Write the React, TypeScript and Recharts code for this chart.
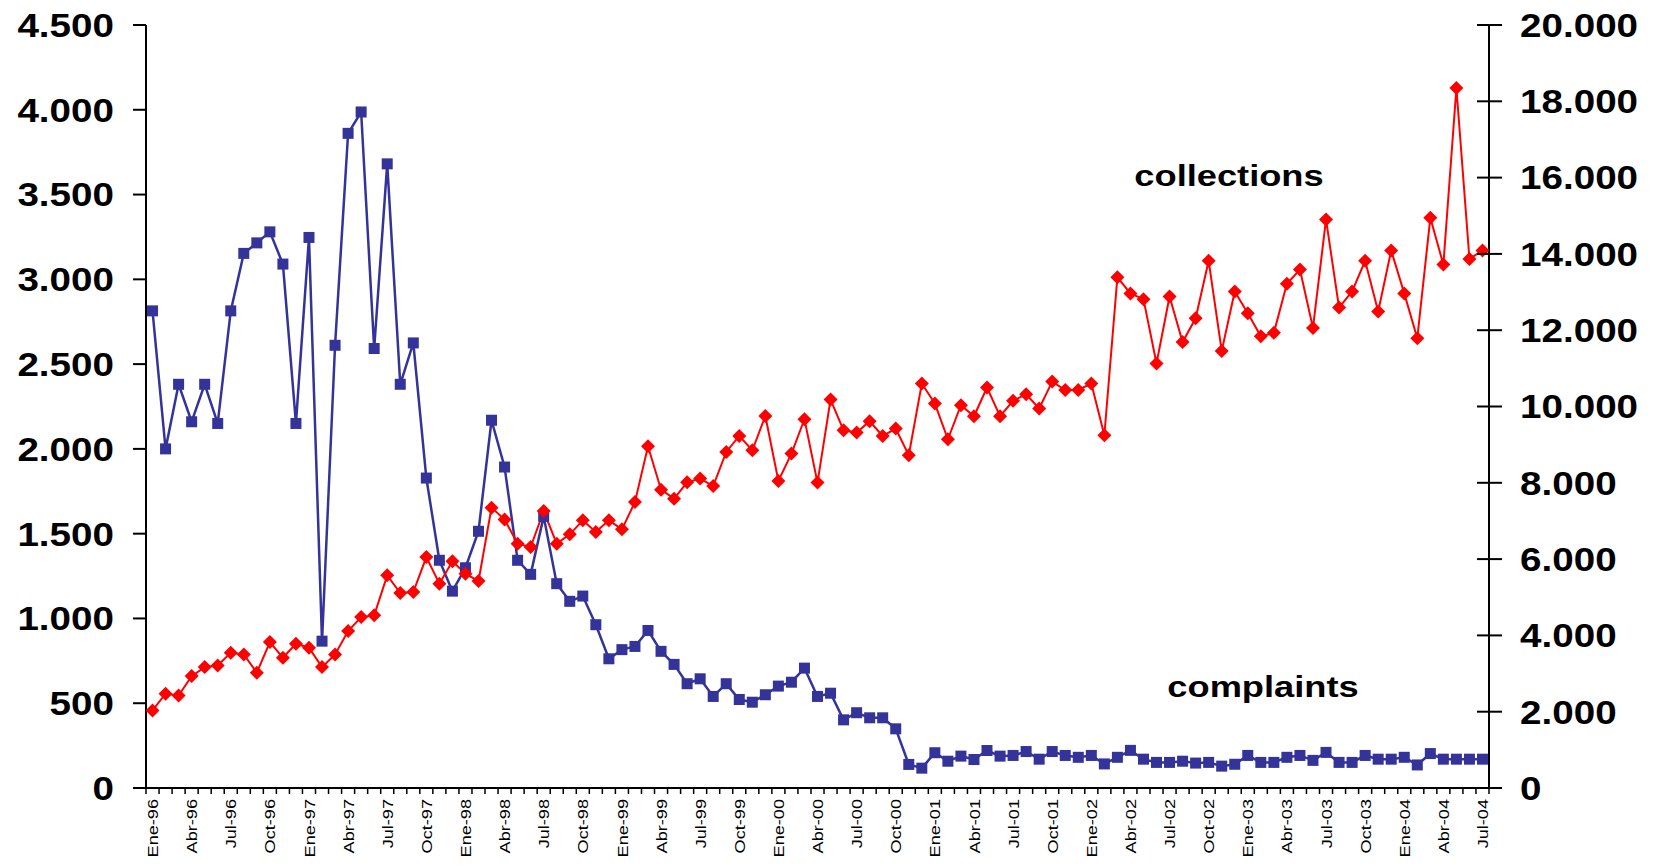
import React from 'react';
import { LineChart, Line, XAxis, YAxis } from 'recharts';

// month labels, Ene-96 .. Jul-04
const monthAbbr = ['Ene', 'Feb', 'Mar', 'Abr', 'May', 'Jun', 'Jul', 'Ago', 'Sep', 'Oct', 'Nov', 'Dic'];
const years = ['96', '97', '98', '99', '00', '01', '02', '03', '04'];
const months: string[] = years.flatMap((y) => monthAbbr.map((m) => `${m}-${y}`)).slice(0, 103);

// left axis
const complaints = [
  2814, 2000, 2381, 2160, 2381, 2150, 2814, 3153, 3215, 3280, 3090, 2150,
  3247, 866, 2611, 3861, 3987, 2592, 3681, 2381, 2625, 1828, 1343, 1161,
  1299, 1514, 2169, 1893, 1343, 1260, 1602, 1205, 1101, 1132, 963, 762,
  816, 835, 929, 806, 729, 615, 644, 540, 615, 522, 506, 550,
  601, 624, 707, 540, 559, 402, 444, 414, 414, 349, 139, 117,
  208, 158, 188, 168, 221, 188, 192, 215, 170, 215, 192, 181,
  192, 142, 181, 222, 170, 151, 151, 158, 147, 151, 129, 140,
  192, 151, 151, 181, 192, 163, 210, 151, 151, 192, 170, 170,
  181, 136, 203, 170, 170, 170, 170,
];

// right axis
const collections = [
  2033, 2471, 2426, 2933, 3169, 3213, 3546, 3502, 3021, 3825, 3415, 3782,
  3677, 3169, 3502, 4113, 4480, 4525, 5574, 5110, 5136, 6054, 5356, 5941,
  5618, 5424, 7349, 7035, 6405, 6316, 7260, 6405, 6649, 7016, 6710, 7016,
  6780, 7496, 8957, 7820, 7585, 8013, 8110, 7916, 8808, 9228, 8852, 9752,
  8048, 8766, 9666, 8005, 10182, 9377, 9316, 9613, 9228, 9421, 8721, 10602,
  10077, 9141, 10033, 9744, 10497, 9744, 10151, 10322, 9950, 10653, 10432, 10432,
  10603, 9246, 13387, 12965, 12814, 11126, 12884, 11688, 12312, 13819, 11457, 13015,
  12442, 11839, 11930, 13216, 13588, 12060, 14904, 12593, 13015, 13819, 12492, 14090,
  12965, 11789, 14945, 13719, 18348, 13869, 14090,
];

const leftTicks = [0, 500, 1000, 1500, 2000, 2500, 3000, 3500, 4000, 4500];
const rightTicks = [0, 2000, 4000, 6000, 8000, 10000, 12000, 14000, 16000, 18000, 20000];

const data = months.map((m, i) => ({ i, month: m, complaints: complaints[i], collections: collections[i] }));

// tick marks sit between months, labels every third month
const xTicks = [
  ...months.map((_, i) => i - 0.5),
  months.length - 0.5,
  ...months.map((_, i) => i).filter((i) => i % 3 === 0),
].sort((a, b) => a - b);

const FONT = '"Liberation Sans", Arial, sans-serif';
const fmt = (n: number) => String(n).replace(/\B(?=(\d{3})+(?!\d))/g, '.');

const XTick = (props: any) => {
  const { x, y, payload } = props;
  const v = payload.value;
  if (!Number.isInteger(v)) {
    return <line x1={x} x2={x} y1={y} y2={y + 6} stroke="#000" strokeWidth={1.5} />;
  }
  return (
    <text
      transform={`translate(${x},${y + 11}) rotate(-90) scale(1.17,1)`}
      textAnchor="end"
      dy="0.36em"
      fontSize={15.5}
      fontFamily={FONT}
      fill="#000"
    >
      {months[v]}
    </text>
  );
};

const LeftTick = (props: any) => {
  const { x, y, payload } = props;
  return (
    <g>
      <line x1={x - 13} x2={x} y1={y} y2={y} stroke="#000" strokeWidth={2} />
      <text
        transform={`translate(${x - 32},${y}) scale(1.17,1)`}
        textAnchor="end"
        dy="0.36em"
        fontSize={33}
        fontWeight="bold"
        fontFamily={FONT}
        fill="#000"
      >
        {fmt(payload.value)}
      </text>
    </g>
  );
};

const RightTick = (props: any) => {
  const { x, y, payload } = props;
  return (
    <g>
      <line x1={x - 12} x2={x + 13} y1={y} y2={y} stroke="#000" strokeWidth={2} />
      <text
        transform={`translate(${x + 31},${y}) scale(1.17,1)`}
        textAnchor="start"
        dy="0.36em"
        fontSize={33}
        fontWeight="bold"
        fontFamily={FONT}
        fill="#000"
      >
        {fmt(payload.value)}
      </text>
    </g>
  );
};

const squareDot = (p: any) => (
  <rect key={`sq-${p.index}`} x={p.cx - 5.5} y={p.cy - 5.5} width={11} height={11} fill="#333399" />
);

const diamondDot = (p: any) => (
  <polygon
    key={`dm-${p.index}`}
    points={`${p.cx},${p.cy - 7} ${p.cx + 7},${p.cy} ${p.cx},${p.cy + 7} ${p.cx - 7},${p.cy}`}
    fill="#FF0000"
  />
);

export default function App() {
  const W = 1639;
  const H = 850;
  return (
    <div style={{ position: 'relative', width: W, height: H }}>
      <LineChart width={W} height={H} data={data} margin={{ top: 17, right: 0, bottom: 0, left: 0 }}>
        <XAxis
          dataKey="i"
          type="number"
          domain={[-0.5, 102.5]}
          ticks={xTicks}
          interval={0}
          tick={<XTick />}
          tickLine={false}
          tickSize={0}
          tickMargin={0}
          axisLine={{ stroke: '#000', strokeWidth: 2 }}
          height={70}
          allowDataOverflow
        />
        <YAxis
          yAxisId="left"
          orientation="left"
          domain={[0, 4500]}
          ticks={leftTicks}
          interval={0}
          width={138}
          tick={<LeftTick />}
          tickLine={false}
          tickSize={0}
          tickMargin={0}
          axisLine={{ stroke: '#000', strokeWidth: 2 }}
        />
        <YAxis
          yAxisId="right"
          orientation="right"
          domain={[0, 20000]}
          ticks={rightTicks}
          interval={0}
          width={158}
          tick={<RightTick />}
          tickLine={false}
          tickSize={0}
          tickMargin={0}
          axisLine={{ stroke: '#000', strokeWidth: 2 }}
        />
        <Line
          yAxisId="left"
          dataKey="complaints"
          stroke="#333399"
          strokeWidth={2.5}
          dot={squareDot}
          activeDot={false}
          isAnimationActive={false}
        />
        <Line
          yAxisId="right"
          dataKey="collections"
          stroke="#FF0000"
          strokeWidth={2}
          dot={diamondDot}
          activeDot={false}
          isAnimationActive={false}
        />
      </LineChart>
      <svg width={W} height={H} style={{ position: 'absolute', left: 0, top: 0, pointerEvents: 'none' }}>
        <text
          transform="translate(1221,178) scale(1.25,1)"
          textAnchor="middle"
          fontSize={29}
          fontWeight="bold"
          fontFamily={FONT}
          fill="#000"
        >
          collections
        </text>
        <text
          transform="translate(1255,689) scale(1.25,1)"
          textAnchor="middle"
          fontSize={29}
          fontWeight="bold"
          fontFamily={FONT}
          fill="#000"
        >
          complaints
        </text>
      </svg>
    </div>
  );
}
